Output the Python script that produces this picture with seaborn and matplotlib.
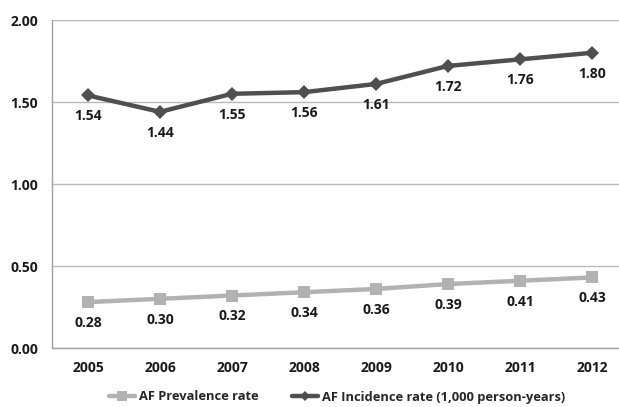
import matplotlib
matplotlib.use("Agg")
import matplotlib.pyplot as plt
import seaborn as sns
import pandas as pd
import numpy as np
from matplotlib.lines import Line2D

years = ["2005", "2006", "2007", "2008", "2009", "2010", "2011", "2012"]
prevalence = [0.28, 0.30, 0.32, 0.34, 0.36, 0.39, 0.41, 0.43]
incidence = [1.54, 1.44, 1.55, 1.56, 1.61, 1.72, 1.76, 1.80]
series_names = ["AF Prevalence rate", "AF Incidence rate (1,000 person-years)"]
y_ticks = [0.0, 0.5, 1.0, 1.5, 2.0]

sns.set_theme(style="white")
plt.rcParams["font.family"] = ["Open Sans", "DejaVu Sans"]
plt.rcParams["font.weight"] = "bold"

df = pd.DataFrame({
    "pos": list(range(len(years))) * 2,
    "value": prevalence + incidence,
    "series": [series_names[0]] * len(years) + [series_names[1]] * len(years),
})

colors = {series_names[0]: "#b2b2b2", series_names[1]: "#4f4f4f"}
markers = {series_names[0]: "s", series_names[1]: "D"}

fig = plt.figure(figsize=(6.19, 4.07), dpi=100)
ax = fig.add_axes([52 / 619, 59 / 407, 576 / 619, 328 / 407])

for name in series_names:
    sub = df[df["series"] == name]
    sns.lineplot(data=sub, x="pos", y="value", ax=ax, color=colors[name],
                 linewidth=3.2, marker=markers[name],
                 markersize=9 if markers[name] == "s" else 7,
                 markeredgewidth=0, legend=False)

# value labels below each point
for name, vals in zip(series_names, [prevalence, incidence]):
    for i, v in enumerate(vals):
        ax.annotate(f"{v:.2f}", (i, v), xytext=(0, -10), textcoords="offset points",
                    ha="center", va="top", fontsize=10, fontweight="bold",
                    color="#1a1a1a")

ax.set_xlim(-0.5, len(years) - 0.5)
ax.set_ylim(0, 2.0)
ax.set_yticks(y_ticks)
ax.set_yticklabels([f"{t:.2f}" for t in y_ticks], fontsize=10, fontweight="bold", color="#1a1a1a")
ax.set_xticks(range(len(years)))
ax.set_xticklabels(years, fontsize=10, fontweight="bold", color="#1a1a1a")
ax.set_xticks(np.arange(-0.5, len(years), 1.0), minor=True)
ax.tick_params(axis="x", which="major", length=0, pad=9)
ax.tick_params(axis="x", which="minor", length=4, color="#a0a0a0", width=1)
ax.tick_params(axis="y", length=5, color="#a0a0a0", width=1, pad=5)
ax.set_xlabel("")
ax.set_ylabel("")

ax.yaxis.grid(True, color="#b8b8b8", linewidth=1)
ax.set_axisbelow(True)
for side in ["top", "right"]:
    ax.spines[side].set_visible(False)
for side in ["left", "bottom"]:
    ax.spines[side].set_color("#a0a0a0")
    ax.spines[side].set_linewidth(1)

handles = [
    Line2D([0], [0], color=colors[series_names[0]], linewidth=3.2, marker="s", markersize=7, markeredgewidth=0),
    Line2D([0], [0], color=colors[series_names[1]], linewidth=3.2, marker="D", markersize=5, markeredgewidth=0),
]
fig.legend(handles, series_names, loc="center", bbox_to_anchor=(0.545, 10 / 407),
           ncol=2, frameon=False, handlelength=2.0, columnspacing=2.6,
           handletextpad=0.3, prop={"family": ["Open Sans", "DejaVu Sans"], "weight": "bold", "size": 9.3})

fig.savefig("out.png", dpi=100)
